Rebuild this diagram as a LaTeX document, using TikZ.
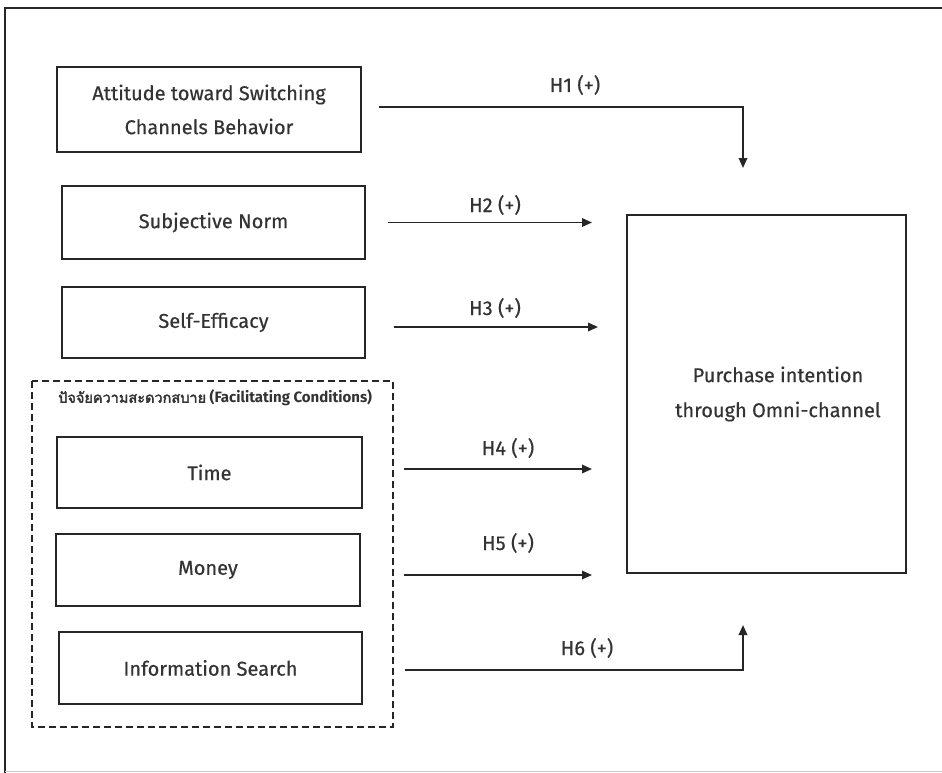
\documentclass[tikz,border=0pt]{standalone}
\usepackage{fontspec}
\setmainfont{Fira Sans}[UprightFeatures={FakeBold=0.5}]
\newfontfamily\thaifont[Script=Thai,AutoFakeBold=2.5]{Loma}
\usetikzlibrary{arrows.meta}
\definecolor{ink}{HTML}{262626}
\definecolor{txt}{HTML}{333333}
\tikzset{
  box/.style={draw=ink, line width=1.4pt, rectangle, align=center, text=txt,
    font=\fontsize{20}{34}\selectfont, inner sep=0pt},
  arr/.style={draw=ink, line width=1.8pt, -{Triangle[length=10pt,width=8.5pt]}},
  hlab/.style={text=txt, font=\fontsize{20}{22}\selectfont, inner sep=0pt},
}
\begin{document}
\begin{tikzpicture}[x=1pt,y=-1pt]
\useasboundingbox (0,0) rectangle (942,773);
% outer frame
\draw[ink, line width=1.6pt] (5,773) -- (5,8) -- (942,8);
\draw[gray!40, line width=0.8pt] (5,771) -- (942,771);

% left boxes
\node[box, minimum width=304pt, minimum height=85pt] (A) at (209,109.5)
  {Attitude toward Switching\\Channels Behavior};
\node[box, minimum width=303pt, minimum height=73pt] (B) at (213.5,222.5) {Subjective Norm};
\node[box, minimum width=303pt, minimum height=71pt] (C) at (213.5,322.5) {Self-Efficacy};

% facilitating conditions group
\draw[ink, line width=1.4pt, dash pattern=on 7pt off 4pt] (32,381) rectangle (393,727);
\node[anchor=west, text=txt, inner sep=0pt, font=\fontsize{15}{17}\selectfont\bfseries] (FC) at (58,398)
  {{\thaifont\fontsize{14.5}{17}\selectfont\bfseries ปัจจัยความสะดวกสบาย} (Facilitating Conditions)};

\node[box, minimum width=305pt, minimum height=71pt] (T) at (209.5,472.5) {Time};
\node[box, minimum width=304pt, minimum height=72pt] (M) at (208,570) {Money};
\node[box, minimum width=303pt, minimum height=72pt] (I) at (210.5,668) {Information Search};

% dependent variable
\node[box, minimum width=279pt, minimum height=358pt] (P) at (766.5,394) {};
\node[text=txt, align=center, font=\fontsize{20}{35}\selectfont, inner sep=0pt] (PT) at (778,394)
  {Purchase intention\\through Omni-channel};

% free arrow ends
\coordinate (e1) at (743,168);
\coordinate (e2) at (592,222.5);
\coordinate (e3) at (598,327);
\coordinate (e4) at (592,469);
\coordinate (e5) at (592,575);
\coordinate (e6) at (743,625);
\coordinate (h1) at (743,107);
\coordinate (h6) at (743,670);

\draw[arr] ([xshift=17pt]A.east |- h1) -| (e1);
\draw[arr] ([xshift=22pt]B.east |- e2) -- (e2);
\draw[arr] ([xshift=28pt]C.east |- e3) -- (e3);
\draw[arr] ([xshift=41pt]T.east |- e4) -- (e4);
\draw[arr] ([xshift=43pt]M.east |- e5) -- (e5);
\draw[arr] ([xshift=42pt]I.east |- h6) -| (e6);

% labels
\node[hlab] (L1) at (575,85) {H1 (+)};
\node[hlab] (L2) at (495,205) {H2 (+)};
\node[hlab] (L3) at (495,308) {H3 (+)};
\node[hlab] (L4) at (508,448) {H4 (+)};
\node[hlab] (L5) at (508,543) {H5 (+)};
\node[hlab] (L6) at (587,648) {H6 (+)};
\end{tikzpicture}
\end{document}
